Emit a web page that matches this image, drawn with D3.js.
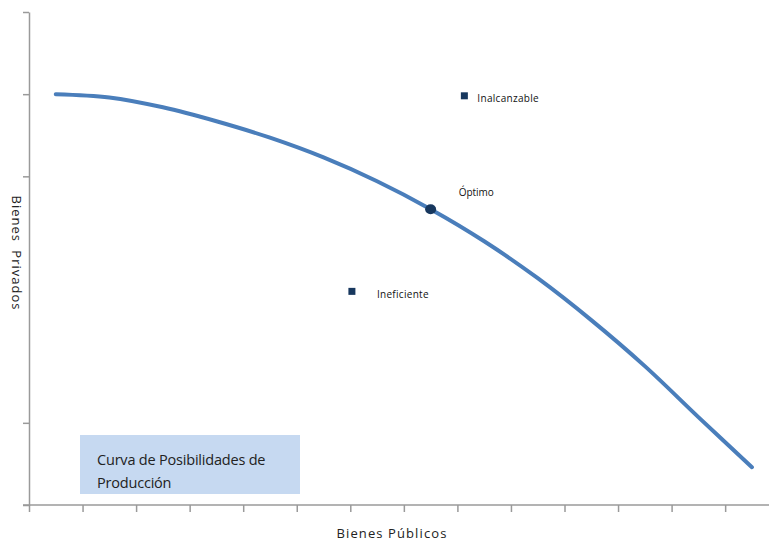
<!DOCTYPE html>
<html>
<head>
<meta charset="utf-8">
<script src="https://cdn.jsdelivr.net/npm/d3@7"></script>
<style>
  body { margin: 0; background: #fff; }
  svg { display: block; font-family: "Open Sans", "Noto Sans", sans-serif; }
</style>
</head>
<body>
<script>
const w = 769;
const h = 543;

// curve: categories at the middle of each x slot
const curveX = [0.5, 1.5, 2.5, 3.5, 4.5, 5.5, 6.5, 7.5, 8.5, 9.5, 10.5, 11.5, 12.5, 13.5];
const curveY = [5.0, 4.96, 4.84, 4.67, 4.47, 4.23, 3.94, 3.6, 3.21, 2.76, 2.25, 1.69, 1.07, 0.46];

// labelled points
const pointNames = ["Inalcanzable", "Ineficiente"];
const pointX = [8.13, 6.03];
const pointY = [4.98, 2.6];
const optimo = { name: "Óptimo", x: 7.5, y: 3.6 };

const xTicks = d3.range(0, 15);
const yTicks = [0, 1, 4, 5, 6];

const lineColor = "#4a7ebb";
const markColor = "#17375e";
const axisColor = "#9a9a9a";
const labelGap = [13, 25]; // label distance from each square

const svg = d3.select("body")
  .append("svg")
  .attr("width", w)
  .attr("height", h);

const xScale = d3.scaleLinear()
  .domain([0, 14])
  .range([29, 29 + 14 * 53.55]);

const yScale = d3.scaleLinear()
  .domain([0, 6])
  .range([505, 12]);

// axes
const xAxis = d3.axisBottom(xScale)
  .tickValues(xTicks)
  .tickFormat("")
  .tickSize(7)
  .tickSizeOuter(0);

const yAxis = d3.axisLeft(yScale)
  .tickValues(yTicks)
  .tickFormat("")
  .tickSize(6)
  .tickSizeOuter(0);

const xg = svg.append("g")
  .attr("transform", `translate(0, ${yScale(0)})`)
  .call(xAxis);
xg.select(".domain").attr("d", `M${xScale(0) - 6},0H${w}`);

svg.append("g")
  .attr("transform", `translate(${xScale(0)}, 0)`)
  .call(yAxis);

svg.selectAll(".domain, .tick line")
  .attr("stroke", axisColor)
  .attr("stroke-width", 1.5);

// text box
svg.append("rect")
  .attr("x", 80)
  .attr("y", 435)
  .attr("width", 220)
  .attr("height", 59)
  .attr("fill", "#c6d9f1");

const boxLines = ["Curva de Posibilidades de", "Producción"];
svg.selectAll(".boxtext")
  .data(boxLines)
  .enter()
  .append("text")
  .attr("class", "boxtext")
  .attr("x", 97)
  .attr("y", (d, i) => 465 + i * 23)
  .attr("font-size", 14.5)
  .attr("letter-spacing", -0.2)
  .attr("fill", "#222")
  .text(d => d);

// the curve
const line = d3.line()
  .x((d, i) => xScale(curveX[i]))
  .y(d => yScale(d))
  .curve(d3.curveCatmullRom.alpha(0.5));

svg.append("path")
  .datum(curveY)
  .attr("d", line)
  .attr("fill", "none")
  .attr("stroke", lineColor)
  .attr("stroke-width", 4)
  .attr("stroke-linecap", "round");

// squares
svg.selectAll(".pt")
  .data(pointNames)
  .enter()
  .append("rect")
  .attr("class", "pt")
  .attr("x", (d, i) => xScale(pointX[i]) - 3.5)
  .attr("y", (d, i) => yScale(pointY[i]) - 3.5)
  .attr("width", 7)
  .attr("height", 7)
  .attr("fill", markColor);

svg.selectAll(".ptlabel")
  .data(pointNames)
  .enter()
  .append("text")
  .attr("class", "ptlabel")
  .attr("x", (d, i) => xScale(pointX[i]) + labelGap[i])
  .attr("y", (d, i) => yScale(pointY[i]) + 6.5)
  .attr("font-size", 10)
  .attr("letter-spacing", 0.3)
  .attr("fill", "#111")
  .text(d => d);

// optimum point
svg.append("ellipse")
  .attr("cx", xScale(optimo.x))
  .attr("cy", yScale(optimo.y))
  .attr("rx", 5.5)
  .attr("ry", 5)
  .attr("fill", markColor);

svg.append("text")
  .attr("x", xScale(optimo.x) + 28)
  .attr("y", yScale(optimo.y) - 13)
  .attr("font-size", 10)
  .attr("fill", "#111")
  .text(optimo.name);

// axis titles
svg.append("text")
  .attr("x", 392)
  .attr("y", 538)
  .attr("text-anchor", "middle")
  .attr("font-size", 13)
  .attr("letter-spacing", 1.1)
  .attr("fill", "#222")
  .text("Bienes Públicos");

svg.append("text")
  .attr("transform", "translate(12, 253) rotate(90)")
  .attr("text-anchor", "middle")
  .attr("font-size", 13)
  .attr("letter-spacing", 1)
  .attr("fill", "#222")
  .style("word-spacing", "4px")
  .text("Bienes Privados");
</script>
</body>
</html>
